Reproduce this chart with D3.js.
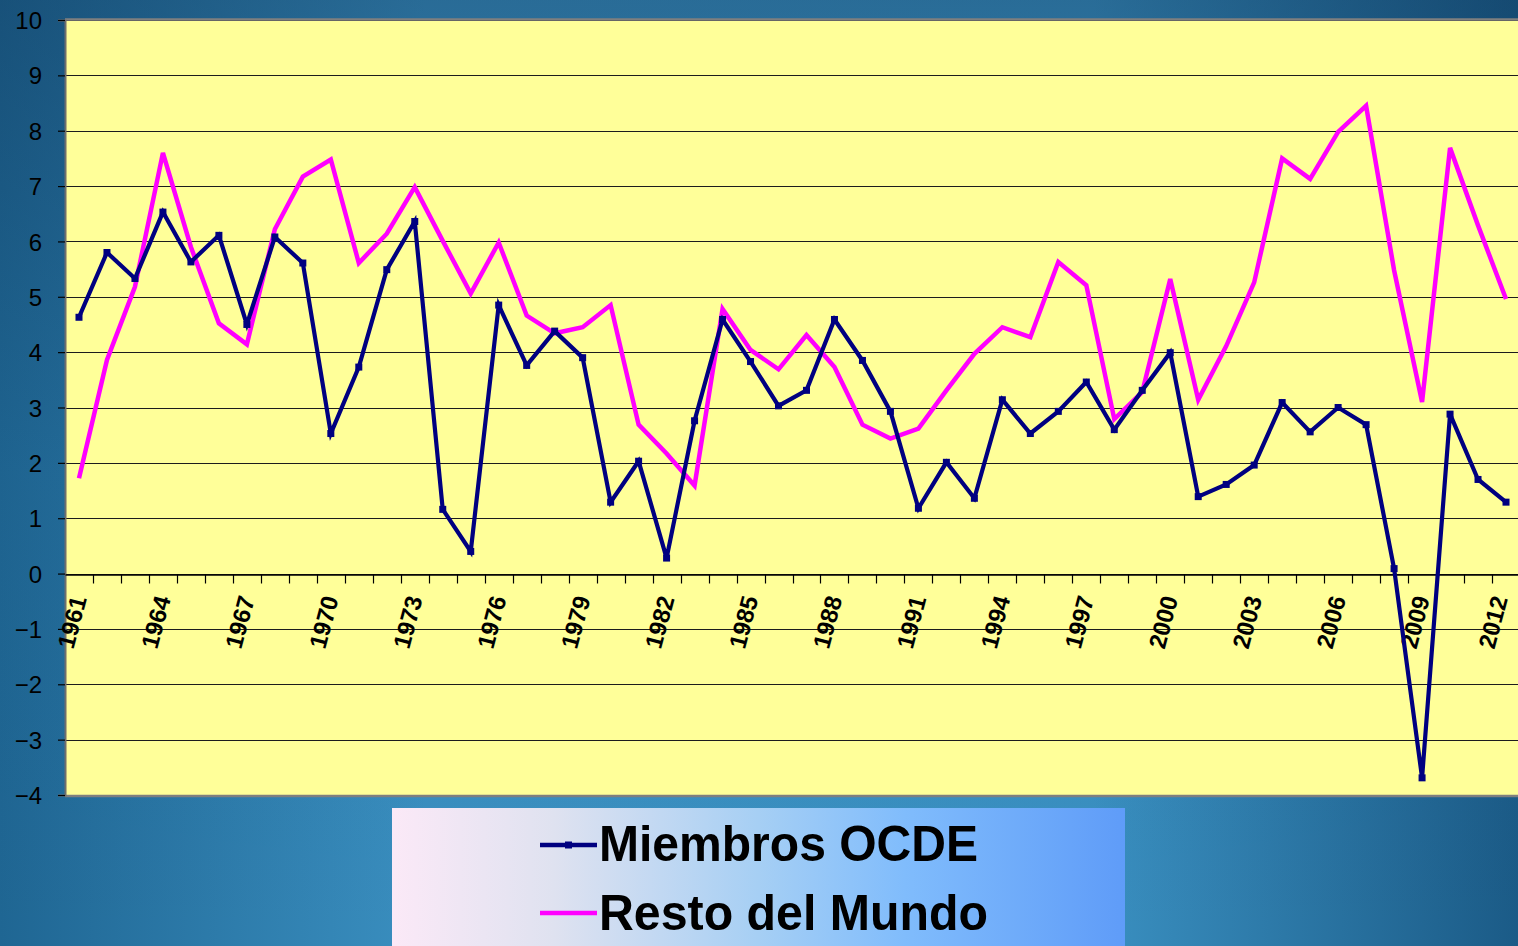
<!DOCTYPE html>
<html>
<head>
<meta charset="utf-8">
<script src="https://cdn.jsdelivr.net/npm/d3@7/dist/d3.min.js"></script>
<style>
html,body{margin:0;padding:0;overflow:hidden;background:#2a7aa8;}
svg{display:block;}
</style>
</head>
<body>
<svg id="chart" width="1518" height="946"></svg>
<script>
const years = [1961,1962,1963,1964,1965,1966,1967,1968,1969,1970,
  1971,1972,1973,1974,1975,1976,1977,1978,1979,1980,
  1981,1982,1983,1984,1985,1986,1987,1988,1989,1990,
  1991,1992,1993,1994,1995,1996,1997,1998,1999,2000,
  2001,2002,2003,2004,2005,2006,2007,2008,2009,2010,
  2011,2012];
const ocde = [4.63,5.80,5.33,6.53,5.63,6.11,4.50,6.08,5.61,2.53,
  3.73,5.49,6.36,1.16,0.40,4.85,3.76,4.38,3.90,1.29,
  2.03,0.28,2.76,4.59,3.83,3.03,3.31,4.59,3.85,2.93,
  1.18,2.01,1.36,3.14,2.53,2.93,3.46,2.60,3.31,3.99,
  1.39,1.61,1.96,3.09,2.56,3.00,2.69,0.09,-3.69,2.88,
  1.70,1.29];
const resto = [1.72,3.86,5.18,7.60,5.90,4.52,4.14,6.22,7.17,7.48,
  5.61,6.14,6.98,6.01,5.06,5.98,4.66,4.34,4.45,4.85,
  2.69,2.17,1.59,4.78,4.04,3.69,4.31,3.73,2.69,2.44,
  2.62,3.31,3.97,4.45,4.27,5.63,5.21,2.79,3.28,5.32,
  3.14,4.11,5.26,7.50,7.13,7.98,8.45,5.48,3.10,7.69,
  6.29,4.96];
const xTickLabels = ["1961","1964","1967","1970","1973","1976","1979","1982","1985","1988","1991","1994","1997","2000","2003","2006","2009","2012"];
const yTicks = [-4,-3,-2,-1,0,1,2,3,4,5,6,7,8,9,10];
const seriesNames = ["Miembros OCDE","Resto del Mundo"];

(function(){
const W = 1518, H = 946;
const svg = d3.select("#chart");
const defs = svg.append("defs");

const bg = defs.append("linearGradient").attr("id","bg").attr("x1","0").attr("x2","1").attr("y1","0").attr("y2","0");
bg.append("stop").attr("offset","0").attr("stop-color","#1f6693");
bg.append("stop").attr("offset","0.28").attr("stop-color","#3a8fc0");
bg.append("stop").attr("offset","0.72").attr("stop-color","#3a90c1");
bg.append("stop").attr("offset","1").attr("stop-color","#1b5b87");
const bgv = defs.append("linearGradient").attr("id","bgv").attr("x1","0").attr("x2","0").attr("y1","0").attr("y2","1");
bgv.append("stop").attr("offset","0").attr("stop-color","#0a2a4a").attr("stop-opacity","0.35");
bgv.append("stop").attr("offset","0.5").attr("stop-color","#0a2a4a").attr("stop-opacity","0.05");
bgv.append("stop").attr("offset","1").attr("stop-color","#0a2a4a").attr("stop-opacity","0");
const lg = defs.append("linearGradient").attr("id","lg").attr("x1","0").attr("x2","1").attr("y1","0").attr("y2","0");
lg.append("stop").attr("offset","0").attr("stop-color","#fbe9f7");
lg.append("stop").attr("offset","0.22").attr("stop-color","#dfe2f0");
lg.append("stop").attr("offset","0.5").attr("stop-color","#a6cff4");
lg.append("stop").attr("offset","0.7").attr("stop-color","#80bcfc");
lg.append("stop").attr("offset","1").attr("stop-color","#5f9cf8");

svg.append("rect").attr("width",W).attr("height",H).attr("fill","url(#bg)");
svg.append("rect").attr("width",W).attr("height",H).attr("fill","url(#bgv)");

const pLeft = 65, pRight = 1520, pTop = 20, pBottom = 795;
const xb = d3.scaleBand().domain(years).range([pLeft,pRight]).padding(0);
const xc = d => xb(d) + xb.bandwidth()/2;
const y = d3.scaleLinear().domain([-4,10]).range([pBottom, pTop]);

svg.append("rect").attr("x",pLeft).attr("y",pTop).attr("width",pRight-pLeft).attr("height",pBottom-pTop).attr("fill","#ffff99");

svg.append("g").selectAll("line").data(yTicks).join("line")
  .attr("x1",pLeft).attr("x2",pRight)
  .attr("y1",d=>Math.round(y(d))+0.5).attr("y2",d=>Math.round(y(d))+0.5)
  .attr("stroke","#1c1c1c").attr("stroke-width",1.2);

svg.append("line").attr("x1",pLeft).attr("x2",pRight).attr("y1",pTop-0.5).attr("y2",pTop-0.5).attr("stroke","#7f7f7f").attr("stroke-width",2.5);
svg.append("line").attr("x1",pLeft).attr("x2",pRight).attr("y1",pBottom+1).attr("y2",pBottom+1).attr("stroke","#7f7f7f").attr("stroke-width",2.5);

const yAxis = d3.axisLeft(y).tickValues(yTicks).tickSize(7).tickPadding(16).tickFormat(d3.format("d"));
const ga = svg.append("g").attr("transform",`translate(${pLeft},0)`).call(yAxis);
ga.select(".domain").attr("stroke","#6e6e6e").attr("stroke-width",2);
ga.selectAll(".tick line").attr("stroke","#000").attr("stroke-width",1.2);
ga.selectAll(".tick text").attr("font-family","Liberation Sans, Arial, sans-serif").attr("font-size",24).attr("fill","#000").attr("dy","0.36em");

const xAxis = d3.axisBottom(xb).tickSize(0).tickFormat("");
const gx = svg.append("g").attr("transform",`translate(0,${Math.round(y(0))+0.5})`).call(xAxis);
gx.select(".domain").attr("stroke","#000").attr("stroke-width",1.3);
const bounds = years.map(d => xb(d)).concat([pRight]);
gx.append("g").selectAll("line").data(bounds.slice(1)).join("line")
  .attr("x1",d=>Math.round(d)+0.5).attr("x2",d=>Math.round(d)+0.5).attr("y1",0).attr("y2",9)
  .attr("stroke","#000").attr("stroke-width",1.2);
gx.append("g").selectAll("text").data(xTickLabels).join("text")
  .attr("transform",d=>`translate(${Math.min(xc(+d)+8, W-10)},${24}) rotate(-75)`)
  .attr("text-anchor","end")
  .attr("font-family","Liberation Sans, Arial, sans-serif").attr("font-weight","bold").attr("font-size",24)
  .attr("fill","#000").text(d=>d);

const line = d3.line().x((d,i)=>xc(years[i])).y(d=>y(d));
svg.append("path").datum(resto).attr("d",line).attr("fill","none").attr("stroke","#ff00ff").attr("stroke-width",4.5).attr("stroke-linejoin","miter");
svg.append("path").datum(ocde).attr("d",line).attr("fill","none").attr("stroke","#000080").attr("stroke-width",4.2).attr("stroke-linejoin","miter");
svg.append("g").selectAll("rect").data(ocde).join("rect")
  .attr("x",(d,i)=>xc(years[i])-3.5).attr("y",d=>y(d)-3.5).attr("width",7).attr("height",7).attr("fill","#000080");

const lgx = 392, lgy = 808;
svg.append("rect").attr("x",lgx).attr("y",lgy).attr("width",1125-lgx).attr("height",H-lgy+2).attr("fill","url(#lg)");
const legItems = [
  {name: seriesNames[0], color:"#000080", marker:true, ly:845, by:861, w:379},
  {name: seriesNames[1], color:"#ff00ff", marker:false, ly:913, by:930, w:389}
];
legItems.forEach(it=>{
  svg.append("line").attr("x1",540).attr("x2",597).attr("y1",it.ly).attr("y2",it.ly).attr("stroke",it.color).attr("stroke-width",4.5);
  if(it.marker) svg.append("rect").attr("x",565).attr("y",it.ly-3.5).attr("width",7).attr("height",7).attr("fill",it.color);
  svg.append("text").attr("x",599).attr("y",it.by)
    .attr("font-family","Liberation Sans, Arial, sans-serif").attr("font-weight","bold").attr("font-size",50)
    .attr("textLength",it.w).attr("lengthAdjust","spacingAndGlyphs")
    .attr("fill","#000").text(it.name);
});
})();
</script>
</body>
</html>
